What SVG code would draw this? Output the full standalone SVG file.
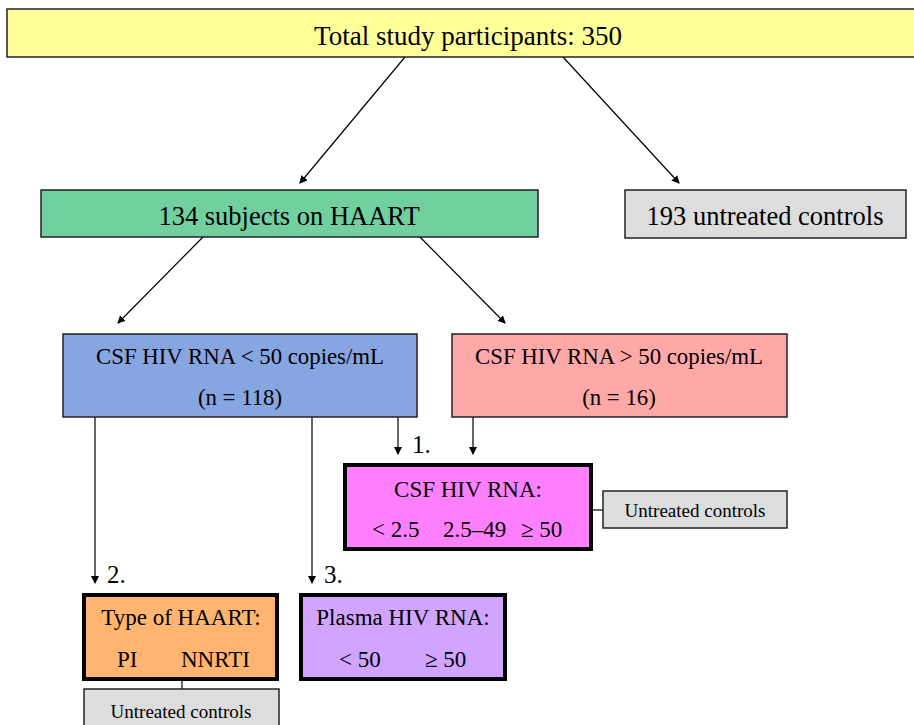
<svg xmlns="http://www.w3.org/2000/svg" width="914" height="725" viewBox="0 0 914 725">
<defs>
<marker id="ah" markerWidth="8" markerHeight="8" refX="7" refY="4" orient="auto" markerUnits="userSpaceOnUse">
<path d="M0,0 L8,4 L0,8 Z" fill="#000"/>
</marker>
<style>
text{font-family:"Liberation Serif","Times New Roman",serif;fill:#000;text-anchor:middle}
.s{text-anchor:start}
.b{stroke:#222;stroke-width:1.5}
.t{stroke:#000;stroke-width:4}
.c{stroke:#000;stroke-width:1.2;fill:none}
.a{marker-end:url(#ah)}
</style>
</defs>
<rect width="914" height="725" fill="#fff"/>
<g id="connectors">
<line class="c a" x1="405" y1="57" x2="300" y2="183"/>
<line class="c a" x1="563" y1="57" x2="679" y2="183"/>
<line class="c a" x1="203" y1="237" x2="118" y2="323"/>
<line class="c a" x1="420" y1="237" x2="505" y2="323"/>
<line class="c a" x1="398" y1="417" x2="398" y2="454"/>
<line class="c a" x1="473" y1="417" x2="473" y2="454"/>
<line class="c a" x1="95" y1="417" x2="95" y2="583"/>
<line class="c a" x1="312" y1="417" x2="312" y2="583"/>
<line class="c" x1="593" y1="510" x2="603" y2="510"/>
<line class="c" x1="182" y1="680" x2="182" y2="689"/>
<text class="s" x="412" y="453" font-size="25">1.</text>
<text class="s" x="107" y="583" font-size="25">2.</text>
<text class="s" x="324" y="583" font-size="25">3.</text>
</g>
<g id="total">
<rect class="b" x="7" y="9" width="912" height="48" fill="#FFFF99"/>
<text x="468" y="45" font-size="27">Total study participants: 350</text>
</g>
<g id="haart">
<rect class="b" x="41" y="190" width="497" height="47" fill="#70D0A0"/>
<text x="289" y="225" font-size="26.5">134 subjects on HAART</text>
</g>
<g id="controls193">
<rect class="b" x="625" y="190" width="281" height="48" fill="#DDDDDD"/>
<text x="765" y="225" font-size="26.5">193 untreated controls</text>
</g>
<g id="csf-low">
<rect class="b" x="63" y="334" width="354" height="83" fill="#87A5E0"/>
<text x="240" y="364" font-size="22.8">CSF HIV RNA &lt; 50 copies/mL</text>
<text x="240" y="405" font-size="22.8">(n = 118)</text>
</g>
<g id="csf-high">
<rect class="b" x="452" y="334" width="335" height="83" fill="#FFA8A8"/>
<text x="619" y="364" font-size="22.8">CSF HIV RNA &gt; 50 copies/mL</text>
<text x="619" y="405" font-size="22.8">(n = 16)</text>
</g>
<g id="csf-cat">
<rect class="t" x="345" y="465" width="246" height="84" fill="#FF80FF"/>
<text x="468" y="497" font-size="23">CSF HIV RNA:</text>
<text class="s" y="537" font-size="23"><tspan x="372">&lt; 2.5</tspan><tspan x="443">2.5–49</tspan><tspan x="521">≥ 50</tspan></text>
</g>
<g id="controls-csf">
<rect class="b" x="603" y="491" width="184" height="37" fill="#DDDDDD"/>
<text x="695" y="517" font-size="19">Untreated controls</text>
</g>
<g id="haart-type">
<rect class="t" x="84" y="595" width="193" height="84" fill="#FFB570"/>
<text x="181" y="625" font-size="23">Type of HAART:</text>
<text class="s" y="667" font-size="23"><tspan x="117">PI</tspan><tspan x="181">NNRTI</tspan></text>
</g>
<g id="plasma">
<rect class="t" x="301" y="595" width="204" height="84" fill="#D0A4FF"/>
<text x="403" y="625" font-size="23">Plasma HIV RNA:</text>
<text class="s" y="667" font-size="23"><tspan x="339">&lt; 50</tspan><tspan x="425">≥ 50</tspan></text>
</g>
<g id="controls-haart">
<rect class="b" x="84" y="689" width="195" height="40" fill="#DDDDDD"/>
<text x="181" y="718" font-size="19">Untreated controls</text>
</g>
</svg>
